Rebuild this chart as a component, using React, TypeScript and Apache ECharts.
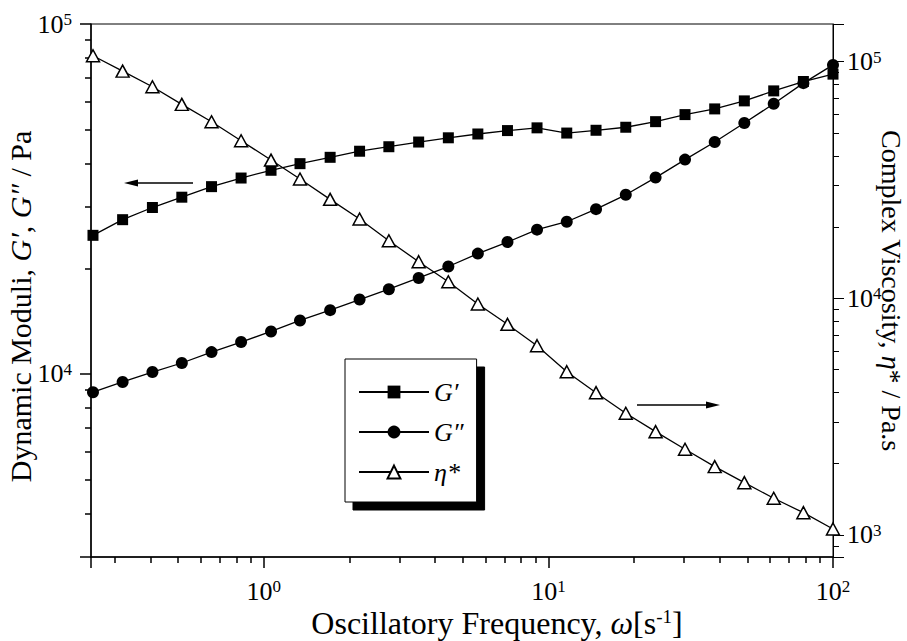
import React, { useEffect, useRef } from 'react';
import * as echarts from 'echarts';

const FONT = '"Liberation Serif", "Times New Roman", serif';

// Oscillatory frequency, s^-1
const frequency = [
  0.251, 0.319, 0.406, 0.515, 0.655, 0.832, 1.06, 1.34, 1.71, 2.17, 2.75, 3.5, 4.45,
  5.65, 7.18, 9.12, 11.6, 14.7, 18.7, 23.8, 30.2, 38.4, 48.8, 61.9, 78.7, 100,
];
// G' / Pa
const storageModulus = [
  24900, 27600, 29900, 32000, 34300, 36300, 38200, 39900, 41600, 43300, 44600, 46000, 47300,
  48500, 49600, 50500, 48800, 49700, 50700, 52600, 55100, 57200, 60300, 64400, 68500, 71900,
];
// G'' / Pa
const lossModulus = [
  8870, 9490, 10130, 10750, 11550, 12340, 13230, 14220, 15220, 16320, 17470, 18810, 20280,
  22080, 23820, 25850, 27230, 29580, 32510, 36410, 40980, 46030, 52130, 59160, 67760, 76420,
];
// eta* / Pa.s
const complexViscosity = [
  105900, 91250, 78340, 66010, 55740, 46330, 38390, 31920, 26200, 21630, 17510, 14280, 11750,
  9460, 7765, 6306, 4897, 3993, 3268, 2732, 2302, 1944, 1663, 1429, 1242, 1060,
];

const xRange = [0.247, 100];
const moduliRange = [3000, 100000];
const viscosityRange = [807, 144300];

const seriesNames = ['G′', 'G″', 'η*'];

function powerLabel(v: number) {
  const e = Math.log10(v);
  const r = Math.round(e);
  if (Math.abs(e - r) > 1e-6) return '';
  return `{b|10}{s|${r}}`;
}

const labelRich = {
  b: { fontFamily: FONT, fontSize: 26, lineHeight: 26, verticalAlign: 'middle', color: '#000' },
  s: { fontFamily: FONT, fontSize: 17, lineHeight: 10, verticalAlign: 'top', color: '#000' },
};

const titleStyle = (size: number, extra: number, padding: number[]) => ({
  fontFamily: FONT,
  fontSize: size,
  color: '#000',
  lineHeight: size + extra,
  padding,
  rich: {
    n: { fontFamily: FONT, fontSize: size, color: '#000', lineHeight: size + extra, verticalAlign: 'bottom' },
    i: { fontFamily: FONT, fontSize: size, fontStyle: 'italic', color: '#000', lineHeight: size + extra, verticalAlign: 'bottom' },
    sup: { fontFamily: FONT, fontSize: Math.round(size * 0.6), color: '#000', lineHeight: Math.round(size * 0.5), verticalAlign: 'top' },
  },
});

const axisCommon = (lineWidth: number) => ({
  type: 'log' as const,
  logBase: 10,
  nameMoveOverlap: false,
  axisLine: { show: true, lineStyle: { color: '#000', width: lineWidth } },
  axisTick: { show: true, inside: false, length: 11, lineStyle: { color: '#000', width: lineWidth } },
  minorTick: { show: true, splitNumber: 9, length: 6, lineStyle: { color: '#000', width: lineWidth } },
  splitLine: { show: false },
  minorSplitLine: { show: false },
  axisLabel: {
    formatter: powerLabel,
    rich: labelRich,
    color: '#000',
    showMinLabel: true,
    showMaxLabel: true,
    hideOverlap: false,
  },
});

export default function App() {
  const ref = useRef<HTMLDivElement>(null);

  useEffect(() => {
    if (!ref.current) return;
    const chart = echarts.init(ref.current, null, { renderer: 'svg' });
    const base = axisCommon(1.5);
    const right = axisCommon(1);
    chart.setOption({
      animation: false,
      backgroundColor: '#fff',
      grid: {
        left: 91,
        top: 24,
        width: 742,
        height: 533,
        show: true,
        borderColor: '#000',
        borderWidth: 1,
        backgroundColor: 'transparent',
        containLabel: false,
        outerBoundsMode: 'none',
      },
      xAxis: {
        ...base,
        min: xRange[0],
        max: xRange[1],
        axisLabel: { ...base.axisLabel, margin: 21 },
        name: '{n|Oscillatory Frequency, }{i|ω}{n|[s}{sup|-1}{n|]}',
        nameLocation: 'middle',
        nameGap: 50,
        nameTextStyle: titleStyle(32, 0, [0, 0, 0, 70]),
      },
      yAxis: [
        {
          ...base,
          position: 'left',
          min: moduliRange[0],
          max: moduliRange[1],
          axisLabel: { ...base.axisLabel, margin: 19 },
          name: '{n|Dynamic Moduli, }{i|G′}{n|, }{i|G″}{n| / Pa}',
          nameLocation: 'middle',
          nameGap: 56,
          nameTextStyle: titleStyle(30, 6, [0, 32, 0, 0]),
        },
        {
          ...right,
          position: 'right',
          min: viscosityRange[0],
          max: viscosityRange[1],
          axisLabel: { ...right.axisLabel, margin: 14 },
          name: '{n|Complex Viscosity, }{i|η}{n|* / Pa.s}',
          nameLocation: 'middle',
          nameRotate: -90,
          nameGap: 44,
          nameTextStyle: titleStyle(28, 0, [0, 0, 0, 0]),
        },
      ],
      legend: {
        data: seriesNames,
        orient: 'vertical',
        left: 345,
        top: 359,
        itemWidth: 70,
        itemHeight: 16,
        itemGap: 14,
        padding: [20, 13, 17, 13],
        backgroundColor: '#fff',
        borderColor: '#000',
        borderWidth: 1,
        borderRadius: 0,
        shadowColor: '#000',
        shadowBlur: 0,
        shadowOffsetX: 8,
        shadowOffsetY: 8,
        selectedMode: false,
        textStyle: { fontFamily: FONT, fontStyle: 'italic', fontSize: 26, lineHeight: 26, color: '#000' },
      },
      graphic: [
        { type: 'line', shape: { x1: 193, y1: 183, x2: 134, y2: 183 }, style: { stroke: '#000', lineWidth: 1.5 } },
        { type: 'polygon', shape: { points: [[124, 183], [138, 179.5], [138, 186.5]] }, style: { fill: '#000' } },
        { type: 'line', shape: { x1: 637, y1: 405, x2: 710, y2: 405 }, style: { stroke: '#000', lineWidth: 1.5 } },
        { type: 'polygon', shape: { points: [[720, 405], [706, 401.5], [706, 408.5]] }, style: { fill: '#000' } },
      ],
      series: [
        {
          name: seriesNames[0],
          type: 'line',
          yAxisIndex: 0,
          data: frequency.map((f, i) => [f, storageModulus[i]]),
          symbol: 'rect',
          symbolSize: 11,
          itemStyle: { color: '#000' },
          lineStyle: { color: '#000', width: 1.3 },
        },
        {
          name: seriesNames[1],
          type: 'line',
          yAxisIndex: 0,
          data: frequency.map((f, i) => [f, lossModulus[i]]),
          symbol: 'circle',
          symbolSize: 12,
          itemStyle: { color: '#000' },
          lineStyle: { color: '#000', width: 1.3 },
        },
        {
          name: seriesNames[2],
          type: 'line',
          yAxisIndex: 1,
          data: frequency.map((f, i) => [f, complexViscosity[i]]),
          symbol: 'triangle',
          symbolSize: [13, 12],
          itemStyle: { color: '#fff', borderColor: '#000', borderWidth: 1.5 },
          lineStyle: { color: '#000', width: 1.3 },
        },
      ],
    });
    return () => chart.dispose();
  }, []);

  return (
    <div
      ref={ref}
      style={{ position: 'absolute', left: 0, top: 0, width: 907, height: 641, background: '#fff' }}
    />
  );
}
